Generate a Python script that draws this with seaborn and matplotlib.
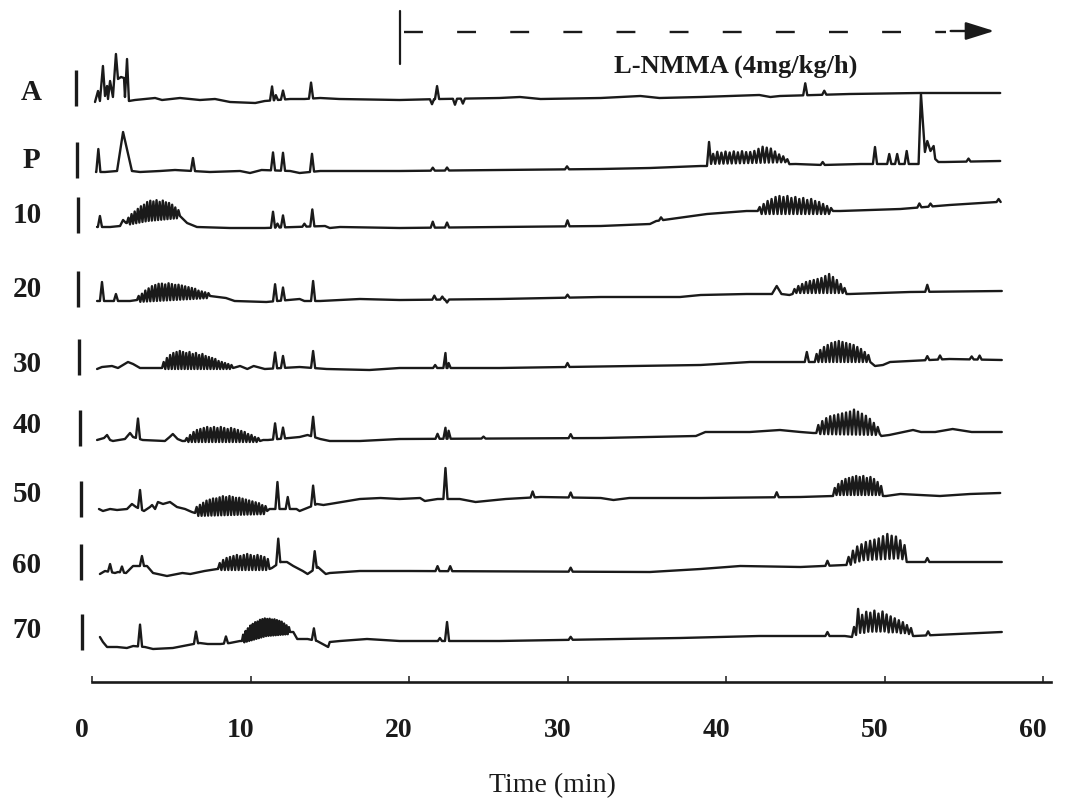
import numpy as np
import pandas as pd
import seaborn as sns
import matplotlib.pyplot as plt

# Style
sns.set_style("white")
plt.rcParams['font.family'] = ['Liberation Serif', 'DejaVu Serif']

# Data: time (min), deflection (chart units, up = positive)
labels = ['A', 'P', '10', '20', '30', '40', '50', '60', '70']
time_ticks = [0, 10, 20, 30, 40, 50, 60]
lnmma_start = 19.45
lnmma_end = 57.1

A_line = [(0.19, -2), (0.38, 9), (0.50, -1), (0.69, 34), (0.82, 4), (0.95, 14), (1.01, 1),
          (1.14, 19), (1.32, 3), (1.51, 46), (1.64, 21), (1.83, 23), (2.02, 22), (2.08, 3),
          (2.21, 41), (2.33, -1), (2.71, 0), (3.98, 2), (4.42, 0), (5.55, 2), (6.81, 0),
          (7.76, 1), (8.71, -2), (10.3, -3), (10.9, -1), (12.5, 1), (13.4, 1), (14.4, 2),
          (15.6, 1), (19.4, 0), (22.0, 1), (25.7, 2), (27.0, 3), (28.3, 1), (32.1, 2),
          (34.6, 4), (35.8, 2), (38.4, 3), (42.1, 5), (42.8, 3), (43.4, 4), (47.8, 6),
          (52.2, 7), (57.3, 7)]
A_spikes = [(11.36, 14), (11.6, 5), (12.05, 9), (13.82, 16), (21.45, -5), (21.77, 13),
            (22.9, -6), (23.4, -5), (45.0, 12), (46.2, 4)]
A_bursts = []

P_line = [(0.25, 0), (0.82, 0), (1.58, 1), (1.96, 40), (2.52, 1), (3.03, 0), (4.29, 1),
          (5.24, 2), (7.44, 0), (9.34, 1), (9.97, -1), (10.7, 2), (12.5, 1), (13.1, -1),
          (14.4, 1), (19.4, 1), (25.7, 2), (32.1, 3), (35.2, 4), (38.4, 6), (38.8, 6),
          (44.4, 8), (46.1, 7), (48.5, 8), (49.1, 8), (52.15, 8), (52.3, 78), (52.55, 20),
          (52.7, 31), (52.9, 21), (53.1, 26), (53.2, 13), (53.4, 10), (53.8, 10), (57.3, 11)]
P_spikes = [(0.4, 23), (6.37, 13), (11.42, 18), (12.05, 18), (13.88, 18), (21.5, 3),
            (22.4, 3), (29.97, 3), (46.1, 3), (49.4, 17), (50.3, 10), (50.8, 10),
            (51.4, 13), (55.3, 3)]
P_bursts = [(38.8, 44.0, [24, 12, 14, 13, 14, 13, 14, 13, 14, 13, 13, 14, 16, 18, 17, 16,
                          13, 10, 8, 5], 2)]

T10_line = [(0.32, 0), (1.14, 0), (1.77, 1), (1.96, 7), (2.15, 4), (2.2, 4), (3.5, 8),
            (5.55, 11), (6.0, 4), (6.62, 0), (8.71, -1), (10.9, -1), (14.7, 1), (15.0, -1),
            (15.65, 0), (19.4, -1), (25.7, 0), (32.1, 1), (35.2, 3), (35.6, 6), (38.8, 13),
            (41.3, 16), (42.0, 16), (47.2, 16), (51.0, 18), (54.1, 22), (57.1, 25)]
T10_spikes = [(0.5, 11), (11.42, 16), (11.7, 4), (12.05, 12), (13.4, 3), (13.9, 17),
              (21.5, 6), (22.4, 5), (30.0, 6), (35.9, 3), (52.2, 4), (52.9, 3), (57.2, 3)]
T10_bursts = [(2.2, 5.55, [5, 8, 10, 12, 14, 15, 17, 18, 17, 18, 16, 17, 15, 14, 12, 9, 6], -2),
              (42.0, 46.75, [4, 7, 10, 12, 14, 15, 14, 15, 13, 14, 12, 13, 11, 12, 10, 9, 7,
                             5, 3], -3)]

T20_line = [(0.32, 0), (1.14, 0), (2.4, 0), (2.84, 1), (7.45, 5), (8.45, 3), (9.0, 0),
            (11.0, -1), (13.1, 2), (13.4, 0), (14.4, 0), (16.9, 2), (19.4, 1), (25.7, 2),
            (32.1, 4), (37.1, 4), (38.4, 6), (41.3, 7), (42.9, 7), (43.2, 15), (43.5, 7),
            (44.0, 6), (44.2, 7), (47.6, 7), (47.8, 7), (51.6, 9), (57.4, 10)]
T20_spikes = [(0.63, 19), (1.51, 7), (11.55, 17), (12.05, 13), (13.95, 20), (21.6, 4),
              (22.1, 3), (22.4, -3), (30.0, 3), (52.7, 7)]
T20_bursts = [(2.84, 7.45, [4, 6, 9, 11, 13, 14, 15, 15, 14, 15, 14, 13, 13, 12, 11, 10, 9,
                            8, 6, 5, 4, 3], -2),
              (44.2, 47.6, [5, 8, 10, 12, 13, 14, 15, 16, 18, 20, 17, 14, 10, 6], 1)]

T30_line = [(0.32, 0), (0.63, 2), (1.26, 3), (1.64, 1), (2.27, 7), (2.59, 5), (3.03, 1),
            (4.1, 1), (4.42, 1), (8.9, 1), (9.34, 3), (9.8, 0), (10.2, 3), (10.9, 0),
            (13.1, 2), (14.8, 0), (17.5, -1), (19.4, 1), (25.7, 1), (38.4, 4), (41.5, 7),
            (44.7, 7), (45.4, 7), (45.6, 7), (49.1, 7), (49.4, 3), (49.9, 4), (50.35, 7),
            (54.1, 10), (57.4, 9)]
T30_spikes = [(11.55, 16), (12.05, 12), (13.95, 17), (21.65, 3), (22.3, 15), (22.5, 5),
              (30.0, 4), (45.1, 10), (52.7, 4), (53.5, 4), (55.5, 3), (56.0, 4)]
T30_bursts = [(4.42, 8.9, [6, 10, 13, 15, 16, 17, 16, 15, 16, 14, 15, 13, 14, 12, 11, 10, 9,
                           7, 6, 5, 4, 3], -1),
              (45.6, 49.1, [8, 12, 15, 17, 19, 20, 21, 20, 19, 18, 17, 15, 13, 10, 7], 0)]

T40_line = [(0.32, 0), (0.76, 2), (0.95, 5), (1.14, 0), (1.32, -1), (2.08, 1), (2.4, 7),
            (2.59, 3), (3.2, 0), (4.6, -1), (4.9, 3), (5.1, 6), (5.4, 1), (5.7, -1),
            (5.87, -1), (10.6, -1), (10.8, 0), (11.1, 0), (13.1, 3), (13.6, 5), (14.4, 1),
            (15.0, -1), (16.9, -1), (19.4, 1), (32.1, 2), (38.1, 4), (38.7, 8), (41.5, 8),
            (43.4, 10), (44.7, 8), (45.5, 7), (45.7, 7), (49.7, 6), (49.8, 4), (50.3, 5),
            (51.8, 10), (52.3, 8), (53.2, 8), (54.3, 11), (55.5, 8), (57.4, 8)]
T40_spikes = [(2.9, 20), (11.55, 16), (12.05, 11), (13.95, 20), (21.8, 5), (22.3, 11),
              (22.5, 8), (24.7, 2), (30.2, 4)]
T40_bursts = [(5.87, 10.6, [3, 6, 9, 11, 12, 13, 14, 13, 14, 13, 14, 13, 12, 13, 12, 11, 10,
                            9, 7, 6, 4, 3], -1),
              (45.7, 49.7, [8, 12, 15, 17, 18, 19, 20, 21, 22, 24, 22, 20, 18, 15, 11, 7], -1)]

T50_line = [(0.44, 2), (0.69, 0), (1.14, 2), (1.58, 1), (2.21, 2), (2.52, 7), (2.78, 4),
            (3.28, 0), (3.66, 4), (3.79, 6), (3.98, 2), (4.16, 9), (4.48, 7), (4.92, 9),
            (5.36, 4), (5.87, 2), (6.3, -1), (6.5, -2), (11.05, 0), (11.2, 2), (12.9, 2),
            (13.1, 0), (14.2, 7), (14.6, 6), (15.0, 7), (16.9, 12), (18.2, 13), (19.4, 12),
            (20.7, 13), (21.0, 10), (21.8, 12), (23.2, 12), (24.2, 9), (26.1, 12), (28.3, 14),
            (32.1, 13), (32.9, 11), (33.9, 13), (38.4, 13), (44.7, 14), (46.6, 15),
            (46.75, 15), (49.9, 15), (50.1, 15), (51.0, 17), (53.5, 15), (55.4, 17), (57.3, 18)]
T50_spikes = [(3.03, 19), (11.7, 27), (12.35, 12), (13.95, 20), (22.3, 31), (27.8, 6),
              (30.2, 5), (43.2, 5)]
T50_bursts = [(6.5, 11.05, [6, 8, 10, 12, 13, 14, 14, 15, 16, 15, 16, 15, 14, 14, 13, 12, 11,
                            10, 9, 8, 6, 5], -3),
              (46.75, 49.9, [8, 12, 15, 17, 18, 19, 20, 19, 20, 18, 19, 17, 14, 10], 1)]

T60_line = [(0.5, 0), (0.82, 3), (1.45, 1), (1.64, 2), (2.15, 1), (2.59, 8), (3.47, 8),
            (3.85, 1), (4.73, -2), (5.7, 1), (6.2, 0), (7.1, 3), (7.9, 5), (7.95, 5),
            (11.2, 5), (11.35, 6), (11.9, 12), (12.3, 12), (12.7, 8), (13.3, 3), (13.6, 0),
            (14.25, 7), (14.75, 0), (15.0, 1), (16.9, 3), (20.0, 3), (35.2, 2), (38.4, 5),
            (40.9, 8), (44.7, 7), (47.5, 9), (47.6, 9), (51.4, 12), (51.6, 12), (57.4, 12)]
T60_spikes = [(1.14, 8), (1.89, 6), (3.15, 10), (11.75, 25), (14.05, 18), (21.8, 5),
              (22.6, 5), (30.2, 4), (46.4, 5), (52.7, 4)]
T60_bursts = [(7.95, 11.2, [6, 9, 11, 12, 13, 14, 13, 14, 15, 14, 13, 14, 13, 12, 10], -1),
              (47.6, 51.4, [8, 14, 18, 20, 22, 23, 24, 25, 27, 29, 27, 26, 22, 17],
               [0, 2, 3, 4, 4, 4, 4, 4, 4, 4, 4, 4, 3, 2])]

T70_line = [(0.5, 7), (0.69, 2), (0.95, -3), (1.58, -3), (2.2, -4), (2.6, -2), (3.34, -3),
            (3.85, -5), (5.1, -4), (6.4, 0), (6.8, 1), (7.3, 0), (8.1, 0), (8.7, 1),
            (9.34, 3), (9.46, 3), (11.0, 10), (12.5, 12), (12.7, 12), (12.95, 5), (13.6, 5),
            (14.2, 3), (14.9, -3), (15.0, 2), (15.65, 3), (17.35, 5), (19.4, 3), (25.7, 3),
            (37.1, 6), (42.1, 8), (47.5, 8), (47.95, 7), (51.8, 8), (51.9, 8), (53.2, 9),
            (57.4, 12)]
T70_spikes = [(3.03, 22), (6.56, 12), (8.45, 7), (14.0, 12), (21.95, 3), (22.4, 19),
              (30.2, 3), (46.4, 4), (52.75, 4)]
T70_bursts = [(9.46, 12.5, [6, 9, 11, 13, 14, 15, 15, 16, 16, 16, 15, 15, 14, 14, 13, 12, 11,
                            9, 7, 5], -2),
              (47.95, 51.8, [10, 28, 22, 25, 24, 26, 23, 25, 22, 20, 18, 16, 14, 11, 8],
               [2, 4, 4, 5, 5, 5, 5, 5, 4, 4, 4, 3, 3, 2, 1])]

lines = [A_line, P_line, T10_line, T20_line, T30_line, T40_line, T50_line, T60_line, T70_line]
spikes = [A_spikes, P_spikes, T10_spikes, T20_spikes, T30_spikes, T40_spikes, T50_spikes,
          T60_spikes, T70_spikes]
bursts = [A_bursts, P_bursts, T10_bursts, T20_bursts, T30_bursts, T40_bursts, T50_bursts,
          T60_bursts, T70_bursts]

# Layout (pixel rows of the figure, 803 px tall)
H = 803
row_px = [101, 173, 228, 302, 370, 441, 512, 575, 645]
label_px = [100, 168, 223, 297, 372, 433, 502, 573, 638]
PX_PER_MIN = 15.85
X0_PX = 92
SPIKE_W = 0.13
INK = '#1a1a1a'


def build_trace(line, spk, bst):
    lt = np.array([p[0] for p in line], float)
    lv = np.array([p[1] for p in line], float)
    keep = np.ones(len(lt), bool)
    pts = []
    for t, h in spk:
        keep &= ~((lt > t - SPIKE_W) & (lt < t + SPIKE_W))
        for tt, dh in ((t - SPIKE_W, 0), (t, h), (t + SPIKE_W, 0)):
            pts.append((tt, np.interp(tt, lt, lv) + dh))
    for t0, t1, peaks, troughs in bst:
        keep &= ~((lt > t0) & (lt < t1))
        n = len(peaks)
        if np.isscalar(troughs):
            troughs = [troughs] * n
        dt = (t1 - t0) / n
        pts.append((t0, np.interp(t0, lt, lv)))
        for i in range(n):
            tp = t0 + (i + 0.5) * dt
            pts.append((tp, np.interp(tp, lt, lv) + peaks[i]))
            if i < n - 1:
                tt = t0 + (i + 1) * dt
                pts.append((tt, np.interp(tt, lt, lv) + troughs[i]))
        pts.append((t1, np.interp(t1, lt, lv)))
    pts += [(t, v) for t, v, k in zip(lt, lv, keep) if k]
    pts.sort(key=lambda p: p[0])
    return pts


rows = []
for name, ln, sp, bs, rp in zip(labels, lines, spikes, bursts, row_px):
    for t, v in build_trace(ln, sp, bs):
        rows.append((name, t, H - rp + v))
df = pd.DataFrame(rows, columns=['trace', 'time', 'level'])

# Plot
fig = plt.figure(figsize=(10.74, 8.03), dpi=100)
ax = fig.add_axes([0, 0, 1, 1])
ax.set_xlim(-X0_PX / PX_PER_MIN, (1074 - X0_PX) / PX_PER_MIN)
ax.set_ylim(0, H)

sns.lineplot(data=df, x='time', y='level', units='trace', estimator=None, sort=False,
             color=INK, lw=1.7, legend=False, ax=ax)

# calibration bars and row labels
bar_x = np.linspace(-1.0, -0.63, len(labels))
for i, name in enumerate(labels):
    base = H - row_px[i]
    ax.vlines(bar_x[i], base - 6, base + 30, color=INK, lw=2.4)
    lx = -3.85 if name in ('A', 'P') else -4.1
    ax.text(lx, H - label_px[i], name, ha='center', va='baseline', fontsize=21,
            fontweight='bold', color=INK)

# L-NMMA infusion marker
ax.plot([lnmma_start, lnmma_start], [H - 12, H - 65], color=INK, lw=1.6)
ax.plot([lnmma_start + 0.25, 53.9], [H - 33, H - 33], color=INK, lw=1.7,
        dashes=(8, 14.5))
ax.annotate('', xy=(lnmma_end, H - 32), xytext=(54.0, H - 32),
            arrowprops=dict(arrowstyle='-|>,head_length=0.8,head_width=0.25',
                            mutation_scale=22, color=INK, lw=1.7))
ax.text(40.6, H - 73, 'L-NMMA (4mg/kg/h)', ha='center', va='baseline', fontsize=19,
        fontweight='bold', color=INK)

# time axis
for s in ['left', 'top', 'right']:
    ax.spines[s].set_visible(False)
ax.spines['bottom'].set_position(('data', H - 683))
ax.spines['bottom'].set_bounds(0, 60.5)
ax.spines['bottom'].set_linewidth(1.9)
ax.spines['bottom'].set_color(INK)
ax.set_xticks(time_ticks)
ax.set_yticks([])
ax.tick_params(axis='x', bottom=True, direction='in', length=4, width=1.1, color=INK,
               labelbottom=False)
for t in time_ticks:
    ax.text(t - 0.63, H - 737, str(t), ha='center', va='baseline', fontsize=20,
            fontweight='bold', color=INK)
ax.set_xlabel('')
ax.set_ylabel('')
fig.text(552 / 1074, 1 - 786 / H, 'Time (min)', ha='center', va='center', fontsize=20,
         color=INK)

fig.savefig('out.png', dpi=100, facecolor='white')
